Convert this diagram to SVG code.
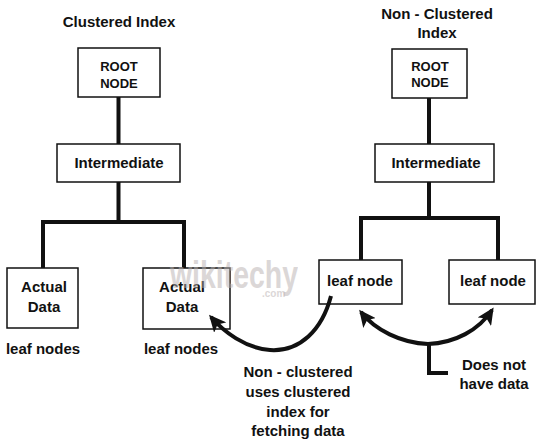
<svg xmlns="http://www.w3.org/2000/svg" width="541" height="447" viewBox="0 0 541 447">
<defs>
<style>
.t{font-family:"Liberation Sans",Arial,sans-serif;font-weight:bold;fill:#111;text-anchor:middle;font-size:15px}
.s{font-size:13px}
.box{fill:#fff;stroke:#111;stroke-width:1.5}
.ln{fill:none;stroke:#111;stroke-width:4}
.wm{font-family:"Liberation Sans",Arial,sans-serif;font-weight:bold;fill:#b8b0b0;opacity:0.5}
</style>
<marker id="ah" markerUnits="userSpaceOnUse" markerWidth="18" markerHeight="16" refX="14" refY="8" orient="auto-start-reverse">
<path d="M0,0 L17,8 L0,16 L4,8 z" fill="#111"/>
</marker>
</defs>
<rect width="541" height="447" fill="#fff"/>

<g id="title-clustered">
<text class="t" x="119" y="27">Clustered Index</text>
</g>
<g id="title-nonclustered">
<text class="t" x="437" y="19">Non - Clustered</text>
<text class="t" x="437" y="38">Index</text>
</g>

<g id="root-left">
<rect class="box" x="78" y="48" width="82" height="49"/>
<text class="t s" x="119" y="71">ROOT</text>
<text class="t s" x="119" y="88">NODE</text>
</g>
<g id="intermediate-left">
<rect class="box" x="57" y="144" width="123" height="38"/>
<text class="t" x="119" y="168">Intermediate</text>
</g>
<g id="actual-data-1">
<rect class="box" x="7" y="268" width="71" height="60"/>
<text class="t" x="44" y="292">Actual</text>
<text class="t" x="44" y="312">Data</text>
</g>
<g id="actual-data-2">
<rect class="box" x="143" y="268" width="87" height="61"/>
<text class="t" x="182" y="292">Actual</text>
<text class="t" x="182" y="312">Data</text>
</g>
<g id="leaf-labels">
<text class="t" x="43" y="354">leaf nodes</text>
<text class="t" x="181" y="354">leaf nodes</text>
</g>

<g id="root-right">
<rect class="box" x="392" y="49" width="75" height="49"/>
<text class="t s" x="430" y="71">ROOT</text>
<text class="t s" x="430" y="87">NODE</text>
</g>
<g id="intermediate-right">
<rect class="box" x="375" y="144" width="119" height="38"/>
<text class="t" x="436" y="168">Intermediate</text>
</g>
<g id="leaf-node-1">
<rect class="box" x="319" y="260" width="83" height="44"/>
<text class="t" x="360" y="286">leaf node</text>
</g>
<g id="leaf-node-2">
<rect class="box" x="449" y="260" width="86" height="44"/>
<text class="t" x="493" y="286">leaf node</text>
</g>

<g id="note-nonclustered">
<text class="t" x="298" y="377">Non - clustered</text>
<text class="t" x="298" y="397">uses clustered</text>
<text class="t" x="298" y="417">index for</text>
<text class="t" x="298" y="436">fetching data</text>
</g>
<g id="note-nodata">
<text class="t" x="494" y="370">Does not</text>
<text class="t" x="494" y="389">have data</text>
</g>

<g id="connectors">
<path class="ln" d="M118.5 97 V144 M118.5 182 V222 M43 268 V222 H184 V268"/>
<path class="ln" d="M429 98 V144 M429 182 V218 M361 260 V218 H498 V260"/>
<path class="ln" d="M331 296 C322 330 300 352 270 350 C245 348 224 332 211 317" marker-end="url(#ah)"/>
<path class="ln" d="M361 312 C375 330 401 343 428 344 C455 343 479 330 492 310" marker-start="url(#ah)" marker-end="url(#ah)"/>
<path class="ln" d="M429 344 V373 H448"/>
</g>

<g id="watermark">
<text class="wm" x="170" y="288" font-size="38" textLength="128" lengthAdjust="spacingAndGlyphs">wikitechy</text>
<text class="wm" x="262" y="297" font-size="10" font-weight="normal">.com</text>
</g>
</svg>
